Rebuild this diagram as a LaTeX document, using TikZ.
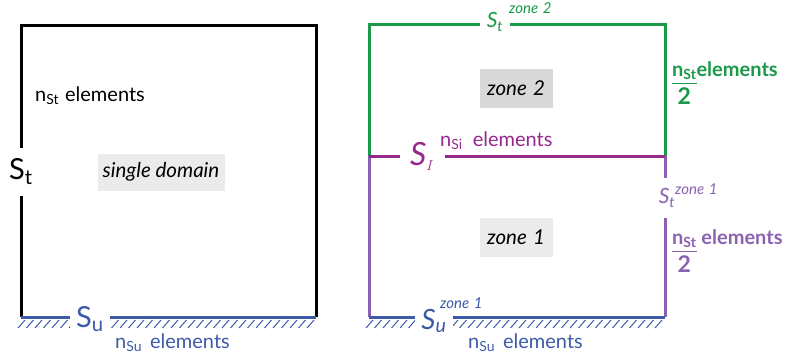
\documentclass[tikz,border=0pt]{standalone}
\usepackage{fontspec}
\setmainfont{Lato}
\usetikzlibrary{positioning}
\definecolor{wallblue}{RGB}{60,90,168}
\definecolor{topgreen}{RGB}{26,154,72}
\definecolor{ifpurple}{RGB}{150,40,140}
\definecolor{lowviolet}{RGB}{138,98,176}
\definecolor{boxgray}{RGB}{235,235,235}
\definecolor{boxgraydk}{RGB}{217,217,217}

\begin{document}
\begin{tikzpicture}[x=1pt, y=-1pt,
    % Estilos
    wall/.style={line width=3pt},
    hatch/.style={wallblue, line width=1pt},
    cut/.style={fill=white, inner sep=1pt},
    zone/.style={inner sep=0pt, minimum width=73pt, minimum height=39pt, font=\fontsize{20.5}{22}\selectfont\itshape},
    elem/.style={font=\fontsize{20}{22}\selectfont, inner sep=0pt},
    big/.style={font=\fontsize{29}{31}\selectfont},
    mid/.style={font=\fontsize{21}{23}\selectfont\itshape},
    sup/.style={font=\fontsize{15}{17}\selectfont\itshape, inner sep=0pt, anchor=base west}
  ]
  \useasboundingbox (0,0) rectangle (790,360);

  % Esquinas
  \coordinate (L-nw) at (21,25);
  \coordinate (L-ne) at (316,25);
  \coordinate (L-sw) at (21,317);
  \coordinate (L-se) at (316,317);
  \coordinate (R-nw) at (369,24);
  \coordinate (R-ne) at (665,24);
  \coordinate (R-w) at (369,156);
  \coordinate (R-e) at (665,156);
  \coordinate (R-sw) at (369,317);
  \coordinate (R-se) at (665,317);

  % ---------------- dominio unico ---------------- %
  \draw[wall] (L-sw) -- (L-nw) -- (L-ne) -- (L-se);
  \draw[wall, wallblue] (L-sw) -- (L-se);
  \foreach \x in {25,33.5,...,316}
    \draw[hatch] (\x,320) -- ++(-7,8);

  \node[cut, big, minimum height=48pt] (St) at (21,172) {S\textsubscript{t}};
  \node[cut, big, text=wallblue, minimum width=40pt] (Su) at (90,319) {S\textsubscript{u}};
  \node[elem, anchor=west] (nSt) at (35,96) {n\textsubscript{St}\hspace{0.3em}elements};
  \node[elem, text=wallblue, anchor=west] (nSu) at (115,343) {n\textsubscript{Su}\hspace{0.4em}elements};
  \node[zone, fill=boxgray, minimum width=127pt, minimum height=37pt] (single) at (161,172) {single domain};

  % ---------------- dos zonas ---------------- %
  \draw[wall, topgreen] (R-w) -- (R-nw) -- (R-ne) -- (R-e);
  \draw[wall, lowviolet] (R-w) -- (R-sw);
  \draw[wall, lowviolet] (R-e) -- (R-se);
  \draw[wall, ifpurple] (R-w) -- (R-e);
  \draw[wall, wallblue] (R-sw) -- (R-se);
  \foreach \x in {373,381.5,...,665}
    \draw[hatch] (\x,320) -- ++(-7,8);

  \node[cut, mid, text=topgreen, minimum width=30pt] (St2) at (495,22) {S\textsubscript{t}};
  \node[sup, text=topgreen] (St2sup) at (509,13) {zone\hspace{0.3em}2};

  \node[cut, text=ifpurple, font=\fontsize{32}{34}\selectfont\itshape, minimum width=45pt] (SI) at (422,156)
    {S\raisebox{-5pt}{\fontsize{15}{15}\selectfont$I$}};
  \node[elem, text=ifpurple, anchor=base west] (nSi) at (440,146) {n\textsubscript{Si}\hspace{0.5em}elements};

  \node[cut, mid, text=lowviolet, inner sep=0pt, minimum height=40pt] (St1) at (667,198) {S\textsubscript{t}};
  \node[sup, text=lowviolet] (St1sup) at (675,194) {zone\hspace{0.3em}1};

  \node[cut, text=wallblue, font=\fontsize{28}{30}\selectfont\itshape, minimum width=38pt] (Su1) at (434,321) {S\textsubscript{u}};
  \node[sup, text=wallblue] (Su1sup) at (440,308) {zone\hspace{0.3em}1};
  \node[elem, text=wallblue, anchor=west] (nSu1) at (468,343) {n\textsubscript{Su}\hspace{0.4em}elements};

  \node[zone, fill=boxgraydk] (zone2) at (516,88) {zone\hspace{0.3em}2};
  \node[zone, fill=boxgray] (zone1) at (516,237) {zone\hspace{0.3em}1};

  \node[elem, text=topgreen, anchor=base west, font=\fontsize{20}{22}\selectfont\bfseries] (nSt2) at (672,76)
    {\begin{tabular}[t]{@{}c@{}}n\textsubscript{St}\\\hline\rule{0pt}{21pt}{\fontsize{23}{25}\selectfont 2}\end{tabular}elements};
  \node[elem, text=lowviolet, anchor=base west, font=\fontsize{20}{22}\selectfont\bfseries] (nSt1) at (672,244)
    {\begin{tabular}[t]{@{}c@{}}n\textsubscript{St}\\\hline\rule{0pt}{21pt}{\fontsize{23}{25}\selectfont 2}\end{tabular} elements};
\end{tikzpicture}
\end{document}
